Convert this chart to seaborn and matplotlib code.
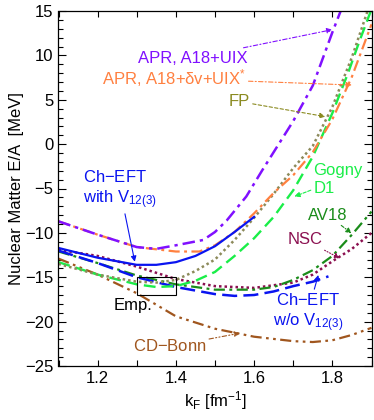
import matplotlib
matplotlib.use("Agg")
import matplotlib.pyplot as plt
import seaborn as sb
import numpy as np
from matplotlib.patches import Rectangle
from matplotlib.ticker import MultipleLocator

# values (kF in fm^-1, E/A in MeV)
apr_k = [1.10, 1.20, 1.30, 1.35, 1.40, 1.47, 1.50, 1.53, 1.58, 1.62, 1.65, 1.70, 1.75, 1.80, 1.83]
apr_e = [-8.7, -10.2, -11.6, -11.8, -11.4, -10.8, -9.9, -8.6, -5.9, -3.0, -0.9, 2.6, 6.6, 12.6, 16.0]

aprdv_k = [1.10, 1.20, 1.30, 1.40, 1.46, 1.50, 1.55, 1.60, 1.65, 1.70, 1.75, 1.80, 1.85, 1.90]
aprdv_e = [-8.7, -10.2, -11.6, -12.1, -12.1, -11.4, -9.9, -7.8, -5.5, -3.5, -0.9, 2.8, 7.6, 13.5]

fp_k = [1.10, 1.20, 1.30, 1.35, 1.40, 1.45, 1.50, 1.55, 1.60, 1.65, 1.70, 1.75, 1.80, 1.85, 1.89]
fp_e = [-13.5, -14.7, -15.5, -15.6, -15.3, -14.3, -13.0, -10.8, -8.3, -5.6, -2.7, -0.2, 4.2, 9.8, 15.0]

gogny_k = [1.10, 1.20, 1.30, 1.35, 1.40, 1.45, 1.50, 1.55, 1.60, 1.65, 1.70, 1.75, 1.80, 1.84, 1.87, 1.90]
gogny_e = [-13.3, -14.7, -15.8, -16.1, -16.0, -15.4, -14.4, -12.6, -10.6, -8.2, -5.2, -1.4, 3.5, 8.0, 11.7, 15.2]

av18_k = [1.10, 1.20, 1.30, 1.40, 1.50, 1.60, 1.65, 1.70, 1.75, 1.80, 1.85, 1.90]
av18_e = [-12.1, -13.4, -14.8, -15.8, -16.4, -16.4, -16.1, -15.3, -14.2, -12.6, -10.2, -7.6]

nsc_k = [1.10, 1.20, 1.30, 1.40, 1.50, 1.60, 1.70, 1.75, 1.80, 1.85, 1.90]
nsc_e = [-11.9, -12.6, -13.8, -15.2, -16.0, -16.2, -15.6, -14.7, -13.2, -11.8, -10.0]

cdb_k = [1.10, 1.20, 1.30, 1.40, 1.50, 1.60, 1.70, 1.75, 1.80, 1.85, 1.90]
cdb_e = [-12.9, -14.7, -16.8, -19.4, -20.8, -21.7, -22.2, -22.3, -22.1, -21.5, -20.7]

eft_wo_k = [1.10, 1.20, 1.30, 1.40, 1.50, 1.55, 1.60, 1.65, 1.70, 1.75, 1.79]
eft_wo_e = [-12.0, -13.4, -15.0, -16.1, -16.9, -17.1, -17.0, -16.6, -16.0, -15.5, -14.9]

eft_w_k = [1.10, 1.20, 1.30, 1.35, 1.40, 1.45, 1.50, 1.55, 1.60]
eft_w_e = [-11.7, -12.8, -13.6, -13.6, -13.3, -12.6, -11.5, -9.9, -8.2]

plt.rcParams['font.family'] = ['Liberation Sans', 'DejaVu Sans']
plt.rcParams['mathtext.fontset'] = 'custom'
plt.rcParams['mathtext.rm'] = 'Liberation Sans'
plt.rcParams['mathtext.it'] = 'Liberation Sans'
fs = 12

fig = plt.figure(figsize=(3.74, 4.2), dpi=100)
ax = fig.add_axes([58.5/374, 1-366/420, 313/374, 355/420])

def line(k, e, color, ls, lw=1.6):
    sb.lineplot(x=k, y=e, ax=ax, color=color, linestyle=ls, lw=lw,
                sort=False, estimator=None)

line(cdb_k, cdb_e, '#a0561e', (0, (5, 2, 1.2, 2, 1.2, 2)))
line(nsc_k, nsc_e, '#8b1050', (0, (1, 1.2)), lw=1.8)
line(av18_k, av18_e, '#1a8c1a', (0, (5, 2, 1.3, 2)))
line(eft_wo_k, eft_wo_e, '#0a14f0', (0, (6, 2.5)), lw=1.8)
line(gogny_k, gogny_e, '#1aee48', (0, (5, 2.5)), lw=1.7)
line(fp_k, fp_e, '#8c8a5a', (0, (1, 1.2)), lw=1.8)
line(aprdv_k, aprdv_e, '#ff8040', (0, (5, 2, 1.3, 2)))
line(apr_k, apr_e, '#8010ff', (0, (5, 2, 1.3, 2)), lw=1.8)
line(eft_w_k, eft_w_e, '#0a14f0', '-', lw=1.6)

ax.add_patch(Rectangle((1.3, -17), 0.1, 2, fill=False, ec='black', lw=0.8, zorder=5))
ax.text(1.24, -18.2, 'Emp.', fontsize=fs, va='center', ha='left')

def note(txt, xy, xytext, color, ls, ha='left', va='center'):
    ax.annotate(txt, xy=xy, xytext=xytext, color=color, fontsize=fs, ha=ha, va=va,
                arrowprops=dict(arrowstyle='-|>', color=color, lw=0.8, ls=ls,
                                mutation_scale=8, shrinkA=0, shrinkB=0))

note('APR, A18+UIX', (1.80, 12.9), (1.304, 9.7), '#8010ff', (0, (4, 2, 1, 2)))
note('APR, A18+$\\delta$v+UIX$^{*}$', (1.85, 6.66), (1.21, 7.4), '#ff8040', (0, (4, 2, 1, 2)))
note('FP', (1.782, 3.1), (1.535, 4.8), '#8a8a20', (0, (3, 2)))
note('Gogny\nD1', (1.703, -5.9), (1.752, -4.0), '#1aee48', (0, (3, 1.5)))
note('AV18', (1.849, -10.05), (1.738, -8.0), '#1a8c1a', (0, (3, 1.5, 1, 1.5)))
note('NSC', (1.819, -12.87), (1.686, -10.8), '#8b1050', (0, (1, 1.5)))
note('Ch$-$EFT\nw/o V$_{12(3)}$', (1.764, -14.75), (1.737, -19.0), '#0a14f0', '-', ha='center')
note('Ch$-$EFT\nwith V$_{12(3)}$', (1.295, -13.25), (1.163, -5.2), '#0a14f0', '-')
note('CD$-$Bonn', (1.564, -21.3), (1.29, -22.8), '#a0561e', (0, (4, 2, 1, 2, 1, 2)))

ax.set_xlim(1.1, 1.9)
ax.set_ylim(-25, 15)
ax.xaxis.set_major_locator(MultipleLocator(0.2))
ax.xaxis.set_minor_locator(MultipleLocator(0.1))
ax.yaxis.set_major_locator(MultipleLocator(5))
ax.yaxis.set_minor_locator(MultipleLocator(1))
ax.tick_params(which='both', direction='in', top=True, right=True, labelsize=fs, width=0.8)
ax.tick_params(axis='y', which='major', length=6)
ax.tick_params(axis='y', which='minor', length=3.5)
ax.tick_params(axis='x', which='both', length=4)
ax.xaxis.set_major_formatter(matplotlib.ticker.FormatStrFormatter('%.1f'))
for s in ax.spines.values():
    s.set_linewidth(0.9)
ax.set_xlabel('k$_F$ [fm$^{-1}$]', fontsize=fs, labelpad=2)
ax.set_ylabel('Nuclear Matter E/A  [MeV]', fontsize=fs, labelpad=1)

fig.savefig('out.png', dpi=100)
